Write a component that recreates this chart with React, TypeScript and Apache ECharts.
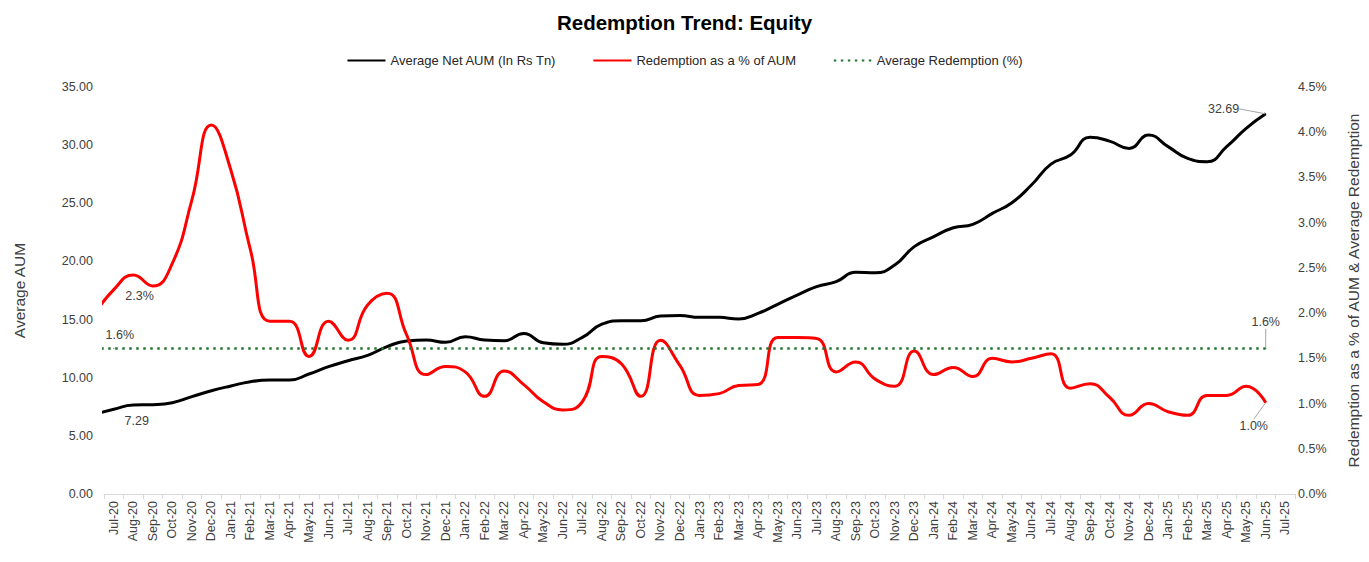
import React, { useEffect, useRef } from "react";
import * as echarts from "echarts";

const months = [
  "Jul-20", "Aug-20", "Sep-20", "Oct-20", "Nov-20", "Dec-20",
  "Jan-21", "Feb-21", "Mar-21", "Apr-21", "May-21", "Jun-21", "Jul-21", "Aug-21", "Sep-21", "Oct-21", "Nov-21", "Dec-21",
  "Jan-22", "Feb-22", "Mar-22", "Apr-22", "May-22", "Jun-22", "Jul-22", "Aug-22", "Sep-22", "Oct-22", "Nov-22", "Dec-22",
  "Jan-23", "Feb-23", "Mar-23", "Apr-23", "May-23", "Jun-23", "Jul-23", "Aug-23", "Sep-23", "Oct-23", "Nov-23", "Dec-23",
  "Jan-24", "Feb-24", "Mar-24", "Apr-24", "May-24", "Jun-24", "Jul-24", "Aug-24", "Sep-24", "Oct-24", "Nov-24", "Dec-24",
  "Jan-25", "Feb-25", "Mar-25", "Apr-25", "May-25", "Jun-25", "Jul-25",
];

// Jun-20 values (the month before the axis starts; the line enters from the left edge)
const aumPriorMonth = 6.85;
const redemptionPriorMonth = 1.98;

// Average Net AUM (In Rs Tn), Jul-20 .. Jun-25
const aumValues = [
  7.29, 7.65, 7.68, 7.85, 8.37, 8.88, 9.29, 9.66, 9.8, 9.8,
  10.32, 10.95, 11.46, 11.92, 12.67, 13.16, 13.24, 13.04, 13.53, 13.24,
  13.18, 13.8, 13.0, 12.87, 13.47, 14.6, 14.9, 14.9, 15.3, 15.35,
  15.19, 15.19, 15.05, 15.53, 16.31, 17.11, 17.83, 18.26, 19.06, 19.03,
  19.69, 21.27, 22.13, 22.9, 23.19, 24.13, 25.05, 26.57, 28.37, 29.15,
  30.67, 30.35, 29.72, 30.87, 29.87, 28.86, 28.58, 29.87, 31.44, 32.69,
];

// Redemption as a % of AUM, Jul-20 .. Jun-25
const redemptionPct = [
  2.26, 2.42, 2.3, 2.55, 3.25, 4.08, 3.58, 2.7, 1.91, 1.91,
  1.52, 1.91, 1.7, 2.09, 2.22, 1.76, 1.32, 1.41, 1.35, 1.08,
  1.36, 1.21, 1.02, 0.93, 1.02, 1.52, 1.44, 1.08, 1.7, 1.42,
  1.09, 1.11, 1.2, 1.21, 1.73, 1.73, 1.72, 1.35, 1.46, 1.27,
  1.19, 1.58, 1.32, 1.4, 1.3, 1.5, 1.46, 1.5, 1.55, 1.17,
  1.22, 1.07, 0.87, 1.0, 0.91, 0.87, 1.09, 1.09, 1.19, 1.01,
];

// Average Redemption (%)
const avgRedemption = 1.61;

const FONT = "Liberation Sans";
const LABEL_COLOR = "#404040";
const GUIDE = { show: true, lineStyle: { color: "#a6a6a6", width: 1 } };

export default function App() {
  const ref = useRef<HTMLDivElement>(null);

  useEffect(() => {
    if (!ref.current) return;
    const chart = echarts.init(ref.current, null, { renderer: "svg" });
    const lastIdx = aumValues.length; // index in series data (after prior-month point)

    const aumData: any[] = [[-1, aumPriorMonth]].concat(
      aumValues.map((v, i) => [i, v]) as any
    );
    aumData[1] = { value: aumData[1], label: { show: true, position: "bottom" } };
    aumData[lastIdx] = { value: aumData[lastIdx], label: { show: true, position: "left" }, labelLine: GUIDE };

    const redData: any[] = [[-1, redemptionPriorMonth]].concat(
      redemptionPct.map((v, i) => [i, v]) as any
    );
    redData[1] = { value: redData[1], label: { show: true, position: "right" } };
    redData[lastIdx] = { value: redData[lastIdx], label: { show: true, position: "bottom" }, labelLine: GUIDE };

    const avgData: any[] = [
      [-1, avgRedemption],
      { value: [0, avgRedemption], label: { show: true, position: "top" } },
      { value: [aumValues.length - 1, avgRedemption], label: { show: true, position: "top" }, labelLine: GUIDE },
    ];

    const baseLabel = (fmt: (v: number) => string) => ({
      show: false,
      fontSize: 12.5,
      color: LABEL_COLOR,
      fontFamily: FONT,
      formatter: (p: any) => fmt(p.value[1]),
    });

    chart.setOption({
      animation: false,
      backgroundColor: "#ffffff",
      textStyle: { fontFamily: FONT },
      title: {
        text: "Redemption Trend: Equity",
        left: "center",
        top: 7,
        textStyle: { fontSize: 20.5, fontWeight: "bold", color: "#000000", fontFamily: FONT },
      },
      legend: {
        top: 49,
        left: "center",
        itemWidth: 38,
        itemHeight: 12,
        itemGap: 36,
        itemStyle: { opacity: 0 },
        textStyle: { fontSize: 13, color: "#262626", fontFamily: FONT },
        data: ["Average Net AUM (In Rs Tn)", "Redemption as a % of AUM", "Average Redemption (%)"],
      },
      grid: { left: 104, right: 72, top: 87, bottom: 68, containLabel: false },
      xAxis: [
        {
          type: "category",
          data: months,
          boundaryGap: true,
          axisLine: { show: true, lineStyle: { color: "#d9d9d9", width: 1 } },
          axisTick: { show: true, alignWithLabel: false, length: 5, lineStyle: { color: "#d9d9d9" } },
          axisLabel: { rotate: 90, interval: 0, fontSize: 12.5, color: LABEL_COLOR, margin: 7, fontFamily: FONT },
          splitLine: { show: false },
        },
        { type: "value", min: -0.5, max: 60.5, show: false },
      ],
      yAxis: [
        {
          type: "value",
          position: "left",
          min: 0,
          max: 35,
          interval: 5,
          name: "Average AUM",
          nameLocation: "middle",
          nameGap: 77,
          nameTextStyle: { fontSize: 15.5, color: LABEL_COLOR, fontFamily: FONT },
          axisLine: { show: false },
          axisTick: { show: false },
          splitLine: { show: false },
          axisLabel: { fontSize: 12.5, color: LABEL_COLOR, margin: 11, formatter: (v: number) => v.toFixed(2) },
        },
        {
          type: "value",
          position: "right",
          min: 0,
          max: 4.5,
          interval: 0.5,
          name: "Redemption as a % of AUM & Average Redemption",
          nameLocation: "middle",
          nameGap: 50,
          nameTextStyle: { fontSize: 15.5, color: LABEL_COLOR, fontFamily: FONT },
          axisLine: { show: false },
          axisTick: { show: false },
          splitLine: { show: false },
          axisLabel: { fontSize: 12.5, color: LABEL_COLOR, margin: 3, formatter: (v: number) => v.toFixed(1) + "%" },
        },
      ],
      series: [
        {
          name: "Average Net AUM (In Rs Tn)",
          type: "line",
          xAxisIndex: 1,
          yAxisIndex: 0,
          smooth: true,
          symbol: "circle",
          symbolSize: 1,
          showSymbol: true,
          showAllSymbol: true,
          lineStyle: { color: "#000000", width: 3 },
          itemStyle: { color: "#000000" },
          label: baseLabel((v) => v.toFixed(2)),
          labelLayout: (p: any) =>
            p.dataIndex === lastIdx ? { dx: -21, dy: -5 } : p.dataIndex === 1 ? { dx: 23, dy: 0 } : {},
          emphasis: { disabled: true },
          data: aumData,
        },
        {
          name: "Redemption as a % of AUM",
          type: "line",
          xAxisIndex: 1,
          yAxisIndex: 1,
          smooth: true,
          symbol: "circle",
          symbolSize: 1,
          showSymbol: true,
          showAllSymbol: true,
          lineStyle: { color: "#ff0000", width: 3 },
          itemStyle: { color: "#ff0000" },
          label: baseLabel((v) => v.toFixed(1) + "%"),
          labelLayout: (p: any) =>
            p.dataIndex === lastIdx ? { dx: -12, dy: 11 } : p.dataIndex === 1 ? { dx: 6, dy: 6 } : {},
          emphasis: { disabled: true },
          data: redData,
        },
        {
          name: "Average Redemption (%)",
          type: "line",
          xAxisIndex: 1,
          yAxisIndex: 1,
          symbol: "circle",
          symbolSize: 1,
          showSymbol: true,
          showAllSymbol: true,
          lineStyle: { color: "#237530", width: 2.5, type: [2.5, 4.5] },
          itemStyle: { color: "#237530" },
          label: baseLabel((v) => v.toFixed(1) + "%"),
          labelLayout: (p: any) =>
            p.dataIndex === 2 ? { dy: -14 } : p.dataIndex === 1 ? { dx: 6, dy: -1 } : {},
          emphasis: { disabled: true },
          data: avgData,
        },
      ],
    });

    return () => chart.dispose();
  }, []);

  return (
    <div
      ref={ref}
      style={{ position: "fixed", left: 0, top: 0, width: 1369, height: 562, background: "#fff" }}
    />
  );
}
